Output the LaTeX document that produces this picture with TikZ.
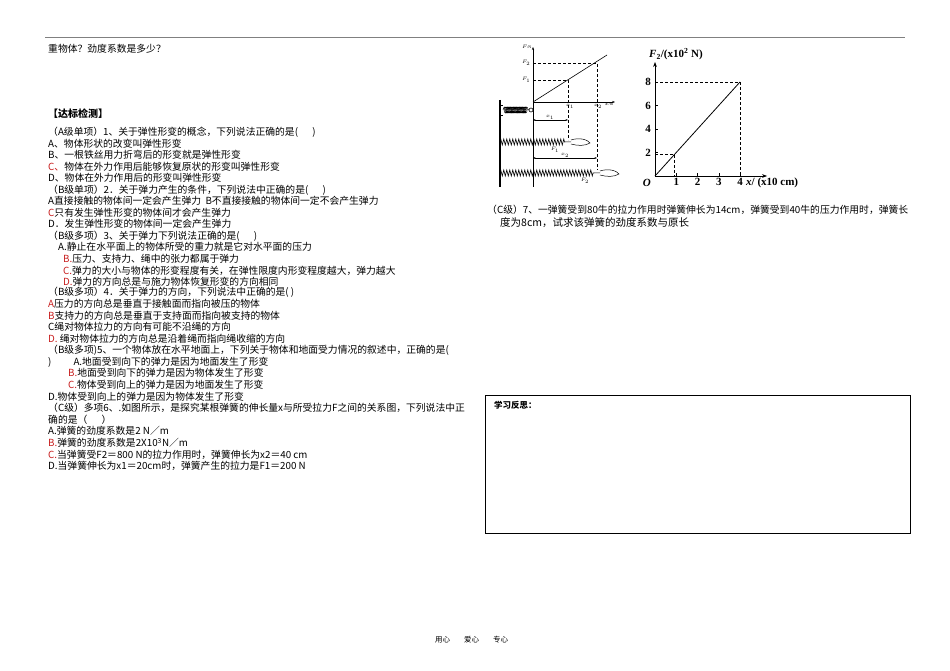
\documentclass[tikz,border=0pt]{standalone}
\usepackage{fontspec}
\setmainfont{Liberation Serif}
\newfontfamily\cjk{Noto Sans CJK SC}
\usetikzlibrary{decorations.pathmorphing,arrows.meta}
\definecolor{rd}{RGB}{200,30,30}
\newcommand{\R}[1]{\textcolor{rd}{#1}}
\begin{document}
\begin{tikzpicture}[x=1pt,y=-1pt,
 t/.style={anchor=west,inner sep=0,font=\cjk\fontsize{9.8}{10}\selectfont},
 sm/.style={inner sep=0.5,font=\fontsize{4}{4}\selectfont},
 gl/.style={inner sep=1,font=\bfseries\fontsize{11}{11}\selectfont},
 dsh/.style={densely dashed,line width=0.5},
 spr/.style={decorate,decoration={zigzag,segment length=3,amplitude=3},line width=0.6}]
\useasboundingbox (0,0) rectangle (950,671);
\fill[white] (0,0) rectangle (950,671);
\draw[gray,line width=0.8] (45,37) -- (905,37);
\node[t] (h0) at (48,49) {重物体？劲度系数是多少？};
\node[t,font=\cjk\bfseries\fontsize{10}{10}\selectfont] (h1) at (48,114) {【达标检测】};
\node[t] (l1) at (48,132) {（A级单项）1、关于弹性形变的概念，下列说法正确的是(\quad\ \ )};
\node[t] (l2) at (48,143.5) {A、物体形状的改变叫弹性形变};
\node[t] (l3) at (48,155) {B、一根铁丝用力折弯后的形变就是弹性形变};
\node[t] (l4) at (48,167) {\R{C、}物体在外力作用后能够恢复原状的形变叫弹性形变};
\node[t] (l5) at (48,178) {D、物体在外力作用后的形变叫弹性形变};
\node[t] (l6) at (48,190) {（B级单项）2．关于弹力产生的条件，下列说法中正确的是(\quad\ \ )};
\node[t] (l7) at (48,201) {A直接接触的物体间一定会产生弹力\ \ B不直接接触的物体间一定不会产生弹力};
\node[t] (l8) at (48,213) {\R{C}只有发生弹性形变的物体间才会产生弹力};
\node[t] (l9) at (48,224) {D．发生弹性形变的物体间一定会产生弹力};
\node[t] (l10) at (48,236) {（B级多项）3、关于弹力下列说法正确的是(\quad\ \ )};
\node[t] (l11) at (58,247) {A.静止在水平面上的物体所受的重力就是它对水平面的压力};
\node[t] (l12) at (63,259) {\R{B.}压力、支持力、绳中的张力都属于弹力};
\node[t] (l13) at (63,271) {\R{C.}弹力的大小与物体的形变程度有关，在弹性限度内形变程度越大，弹力越大};
\node[t] (l14) at (63,282) {\R{D.}弹力的方向总是与施力物体恢复形变的方向相同};
\node[t] (l15) at (48,292.5) {（B级多项）4．关于弹力的方向，下列说法中正确的是(\ )};
\node[t] (l16) at (48,304) {\R{A}压力的方向总是垂直于接触面而指向被压的物体};
\node[t] (l17) at (48,315.5) {\R{B}支持力的方向总是垂直于支持面而指向被支持的物体};
\node[t] (l18) at (48,327) {C绳对物体拉力的方向有可能不沿绳的方向};
\node[t] (l19) at (48,338.5) {\R{D.}\ 绳对物体拉力的方向总是沿着绳而指向绳收缩的方向};
\node[t] (l20) at (48,350) {（B级多项)5、一个物体放在水平地面上，下列关于物体和地面受力情况的叙述中，正确的是(};
\node[t] (l21) at (48,362) {)\hspace{22pt}A.地面受到向下的弹力是因为地面发生了形变};
\node[t] (l22) at (68,373) {\R{B.}地面受到向下的弹力是因为物体发生了形变};
\node[t] (l23) at (68,385) {\R{C.}物体受到向上的弹力是因为地面发生了形变};
\node[t] (l24) at (48,396.5) {D.物体受到向上的弹力是因为物体发生了形变};
\node[t] (l25) at (48,408) {（C级）多项6、.如图所示，是探究某根弹簧的伸长量x与所受拉力F之间的关系图，下列说法中正};
\node[t] (l26) at (48,419.5) {确的是（\quad\ \ ）};
\node[t] (l27) at (48,431) {A.弹簧的劲度系数是2 N／m};
\node[t] (l28) at (48,443) {\R{B.}弹簧的劲度系数是2X10\textsuperscript{3}N／m};
\node[t] (l29) at (48,454.5) {\R{C.}当弹簧受F2＝800 N的拉力作用时，弹簧伸长为x2＝40 cm};
\node[t] (l30) at (48,466) {D.当弹簧伸长为x1＝20cm时，弹簧产生的拉力是F1＝200 N};
% right text
\node[t] (r1) at (487,210) {（C级）7、一弹簧受到80牛的拉力作用时弹簧伸长为14cm，弹簧受到40牛的压力作用时，弹簧长};
\node[t,font=\cjk\fontsize{10.5}{11}\selectfont] (r2) at (500,223) {度为8cm，试求该弹簧的劲度系数与原长};
% reflection box
\draw[line width=0.6] (485,395) rectangle (910,533);
\node[t,font=\cjk\bfseries\fontsize{8.5}{9}\selectfont] (ref) at (494,405) {学习反思：};
\node[t,font=\cjk\fontsize{7.5}{8}\selectfont] (ft) at (435,640) {用心\hspace{14pt}爱心\hspace{14pt}专心};
% left figure
\coordinate (o1) at (533,102);
\draw[-{Stealth[length=3]},line width=0.5] (533,187) -- (533,47);
\draw[-{Stealth[length=3]},line width=0.5] (o1) -- (615,102);
\draw[line width=0.6] (o1) -- (607,55);
\draw[dsh] (533,63) -- (597,63) -- (597,170);
\draw[dsh] (533,80) -- (568,80) -- (568,140);
\node[sm,anchor=east] (f2) at (531,63) {$F_2$};
\node[sm,anchor=east] (f1) at (531,80) {$F_1$};
\node[sm,anchor=south east] (fn) at (532,49) {$F$/N};
\node[sm,anchor=north] (xx1) at (570,104) {$x_1$};
\node[sm,anchor=north] (xx2) at (598,104) {$x_2$};
\node[sm,anchor=north west] (xcm) at (604,102) {$x$/m};
\draw[line width=1.5] (500,100) -- (500,187);
\draw[line width=0.5] (500,105) -- (503,105) (500,115) -- (503,115);
\draw[decorate,decoration={coil,segment length=1.2,amplitude=3},line width=0.5] (503,110) -- (529,110);
\draw[line width=0.6] (531,110) circle (2);
\draw[{Stealth[length=2.5]}-{Stealth[length=2.5]},line width=0.4] (533,120) -- (568,120);
\node[sm,anchor=south] (lx1) at (550,120) {$x_1$};
\draw[spr] (500,142) -- (565,142);
\draw[line width=0.5] (565,142) -- (571,142) (571,140) .. controls (580,137) and (588,140) .. (590,143) .. controls (585,146) and (578,146) .. (571,144);
\node[sm] (lf1) at (555,150) {$F_1$};
\draw[{Stealth[length=2.5]}-{Stealth[length=2.5]},line width=0.4] (533,158) -- (597,158);
\node[sm,anchor=south] (lx2) at (565,158) {$x_2$};
\draw[spr] (500,173) -- (594,173);
\draw[line width=0.5] (594,173) -- (600,173) (600,171) .. controls (609,168) and (617,171) .. (619,174) .. controls (614,177) and (607,177) .. (600,175);
\node[sm] (lf2) at (585,181) {$F_2$};
% right graph
\coordinate (o2) at (655,176);
\draw[-{Stealth[length=5]},line width=0.7] (o2) -- (655,62);
\draw[-{Stealth[length=5]},line width=0.7] (o2) -- (767,176);
\draw[line width=0.8] (o2) -- (740,82);
\draw[dsh] (655,82) -- (740,82) -- (740,176);
\draw[dsh] (655,154) -- (674,154) -- (674,176);
\foreach \i in {1,2,3,4} \draw[line width=0.5] (655+\i*21.3,176) -- (655+\i*21.3,173);
\foreach \j in {2,4,6,8} \draw[line width=0.5] (655,176-\j*11.75) -- (658,176-\j*11.75);
\node[gl,anchor=north east] (O) at (652,178) {\itshape O};
\foreach \i in {1,2,3,4} \node[gl,anchor=north] (xt\i) at (655+\i*21.3,177) {\i};
\foreach \j in {2,4,6,8} \node[gl,anchor=east] (yt\j) at (652,176-\j*11.75) {\j};
\node[gl,anchor=west] (ylab) at (648,54) {\textit{F}\textsubscript{2}/(x10\textsuperscript{2} N)};
\node[gl,anchor=west] (xlab) at (745,183) {\textit{x}/ (x10 cm)};
\end{tikzpicture}
\end{document}
